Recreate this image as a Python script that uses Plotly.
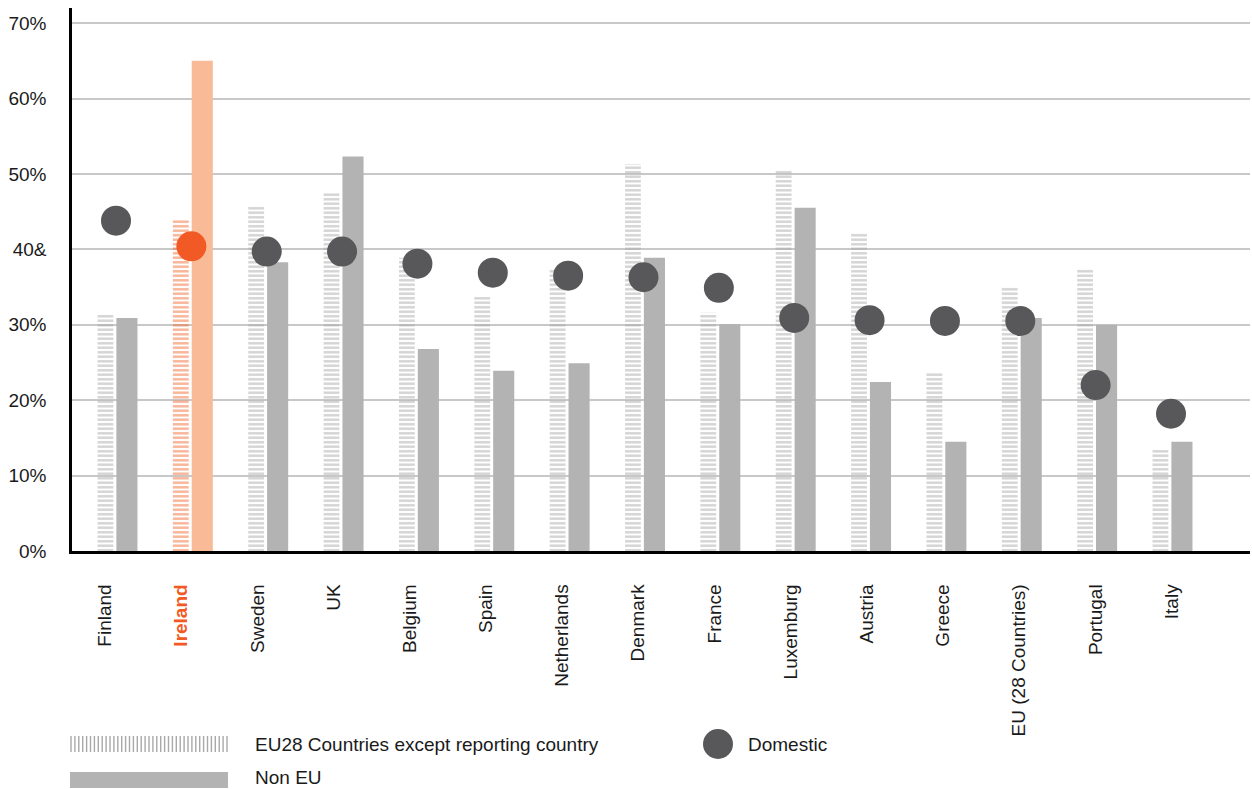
import plotly.graph_objects as go

countries = ["Finland", "Ireland", "Sweden", "UK", "Belgium", "Spain", "Netherlands",
             "Denmark", "France", "Luxemburg", "Austria", "Greece", "EU (28 Countries)",
             "Portugal", "Italy"]
eu28_except = [31.4, 43.9, 45.8, 47.6, 38.9, 33.7, 37.5, 51.3, 31.6, 50.5, 42.2, 23.7, 35.1, 37.5, 13.4]
non_eu = [30.9, 65.0, 38.3, 52.3, 26.8, 23.9, 24.9, 38.9, 30.1, 45.5, 22.4, 14.5, 30.9, 30.0, 14.5]
domestic = [43.8, 40.4, 39.7, 39.7, 38.1, 36.9, 36.5, 36.3, 34.9, 30.9, 30.6, 30.5, 30.5, 22.0, 18.2]
y_tickvals = [0, 10, 20, 30, 40, 50, 60, 70]
y_ticktext = ["0%", "10%", "20%", "30%", "40&", "50%", "60%", "70%"]
highlight = "Ireland"

W, H = 1252, 789
L, R, T, B = 72, 2, 8, 238
PW, PH = W - L - R, H - T - B

FONT = "Liberation Sans, Arial, Helvetica, sans-serif"
ORANGE = "#f15a24"
GRAY_BAR = "#b3b3b3"
HATCH = "#a9a9a9"
DOT = "#58585a"

xs = list(range(len(countries)))
hl = [c == highlight for c in countries]

fig = go.Figure()
fig.add_trace(go.Bar(
    x=xs, y=eu28_except, offset=-0.245, width=0.21,
    marker=dict(color="rgba(0,0,0,0)", line=dict(width=0),
                pattern=dict(shape="-", size=4.5, solidity=0.55,
                             fgcolor=["#f26a2e" if h else HATCH for h in hl],
                             bgcolor="rgba(0,0,0,0)")),
    showlegend=False, name="EU28 Countries except reporting country"))
fig.add_trace(go.Bar(
    x=xs, y=non_eu, offset=0.005, width=0.28,
    marker=dict(color=["#f9bb97" if h else GRAY_BAR for h in hl], line=dict(width=0)),
    showlegend=False, name="Non EU"))
fig.add_trace(go.Scatter(
    x=xs, y=domestic, mode="markers",
    marker=dict(size=30, color=[ORANGE if h else DOT for h in hl], line=dict(width=0)),
    showlegend=False, name="Domestic"))

ticktext = [f"<b><span style='color:{ORANGE}'>{c}</span></b>" if h else c
            for c, h in zip(countries, hl)]
tickvals = [i * 1.011 - 0.146 for i in xs]

px_per_unit = (1171 - 116) / 14
x0 = -(116 - L) / px_per_unit
x1 = 14 + (L + PW - 1171) / px_per_unit

fig.update_layout(
    width=W, height=H,
    margin=dict(l=L, r=R, t=T, b=B, pad=0),
    paper_bgcolor="white", plot_bgcolor="white",
    barmode="overlay",
    font=dict(family=FONT, size=19, color="#1a1a1a"),
    xaxis=dict(range=[x0, x1], tickmode="array", tickvals=tickvals, ticktext=ticktext,
               tickangle=-90, showgrid=False, zeroline=False, showline=True,
               linecolor="black", linewidth=2.5, ticks="", ticklabelstandoff=23,
               tickfont=dict(size=19, family=FONT, color="#1a1a1a")),
    yaxis=dict(range=[0, 72], tickmode="array", tickvals=y_tickvals, ticktext=y_ticktext,
               showgrid=True, gridcolor="#c8c8c8", gridwidth=1.5, zeroline=False,
               showline=True, linecolor="black", linewidth=2.5, ticks="",
               ticklabelstandoff=19, tickfont=dict(size=19, family=FONT, color="#1a1a1a")),
)

def px_x(p):
    return (p - L) / PW

def px_y(p):
    return (H - B - p) / PH

shapes = []
# hatched legend swatch (vertical lines)
xx = 71.0
while xx <= 228:
    shapes.append(dict(type="line", xref="paper", yref="paper",
                       x0=px_x(xx), x1=px_x(xx), y0=px_y(736), y1=px_y(752),
                       line=dict(color=HATCH, width=1.4)))
    xx += 3.9
# non EU swatch
shapes.append(dict(type="rect", xref="paper", yref="paper",
                   x0=px_x(70), x1=px_x(228), y0=px_y(788), y1=px_y(772),
                   fillcolor=GRAY_BAR, line=dict(width=0)))
# domestic dot
shapes.append(dict(type="circle", xref="paper", yref="paper",
                   x0=px_x(703), x1=px_x(733), y0=px_y(759), y1=px_y(729),
                   fillcolor=DOT, line=dict(width=0)))
fig.update_layout(shapes=shapes)

ann = [
    ("EU28 Countries except reporting country", 253, 744),
    ("Non EU", 253, 777),
    ("Domestic", 746, 744),
]
fig.update_layout(annotations=[
    dict(text=t, xref="paper", yref="paper", x=px_x(x), y=px_y(y), xanchor="left",
         yanchor="middle", showarrow=False, font=dict(size=19, family=FONT, color="#1a1a1a"))
    for t, x, y in ann
])

fig.write_html("out.html")
